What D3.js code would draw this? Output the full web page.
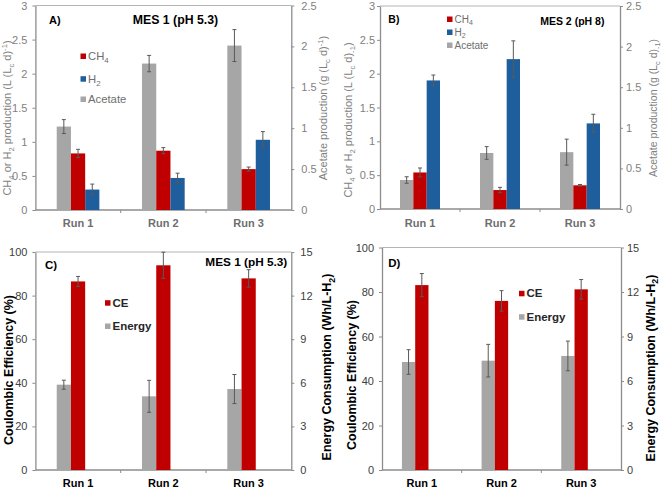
<!DOCTYPE html>
<html><head><meta charset="utf-8">
<script src="https://cdn.jsdelivr.net/npm/d3@7"></script>
<style>body{margin:0;background:#fff}svg{display:block;font-family:"Liberation Sans",Arial,sans-serif}</style>
</head><body><svg id="c" width="661" height="488"></svg>
<script>
const runs = ["Run 1", "Run 2", "Run 3"];
// Panel A – MES 1 (pH 5.3)
const ch4A = [0.83, 0.87, 0.60],   ch4AErr = [0.06, 0.045, 0.03];
const h2A = [0.30, 0.47, 1.03],    h2AErr = [0.08, 0.07, 0.12];
const acetateA = [1.02, 1.79, 2.01], acetateAErr = [0.085, 0.10, 0.195];
// Panel B – MES 2 (pH 8)
const ch4B = [0.54, 0.28, 0.35],   ch4BErr = [0.066, 0.04, 0.012];
const h2B = [1.90, 2.215, 1.265],  h2BErr = [0.08, 0.27, 0.135];
const acetateB = [0.357, 0.69, 0.70], acetateBErr = [0.04, 0.078, 0.16];
// Panel C – MES 1 (pH 5.3)
const ceC = [86.5, 93.9, 87.9],    ceCErr = [2.3, 6.0, 4.0];
const energyC = [5.87, 5.07, 5.57], energyCErr = [0.31, 1.1, 1.0];
// Panel D – MES 2
const ceD = [83.1, 76.0, 81.2],    ceDErr = [5.2, 4.6, 4.4];
const energyD = [7.28, 7.37, 7.69], energyDErr = [0.83, 1.1, 1.0];
// Tick labels
const prodTicks = [0, 0.5, 1, 1.5, 2, 2.5, 3];
const acetateTicks = [0, 0.5, 1, 1.5, 2, 2.5];
const ceTicks = [0, 20, 40, 60, 80, 100];
const energyTicks = [0, 3, 6, 9, 12, 15];

const svg = d3.select("#c");
const RED = "#C00000", BLUE = "#1F5E9C", GRAY = "#A6A6A6", ERR = "#595959", AX = "#8c8c8c";

function rich(sel, parts, size, subK) {
  const k = subK == null ? 0.3 : subK;
  let shift = 0;
  parts.forEach(([t, m]) => {
    const target = m === "sub" ? size * k : m === "sup" ? -size * 0.38 : 0;
    const ts = sel.append("tspan").attr("dy", target - shift).text(t);
    if (m !== "n") ts.attr("font-size", size * 0.7);
    shift = target;
  });
}

function drawPanel(p) {
  const g = svg.append("g");
  const x = d3.scaleBand().domain(runs).range([p.x0, p.x1]);
  const bw = x.bandwidth();
  const slot = d3.scaleBand().domain([0, 1, 2]).range([0, bw * 0.5]);
  const off = bw * 0.25;
  const yL = d3.scaleLinear().domain([0, p.lMax]).range([p.y1, p.y0]);
  const yR = d3.scaleLinear().domain([0, p.rMax]).range([p.y1, p.y0]);

  g.append("line").attr("x1", p.x0).attr("x2", p.x1).attr("y1", p.y0).attr("y2", p.y0)
    .attr("stroke", "#b4b4b4").attr("stroke-width", 1);

  const la = g.append("g").attr("transform", `translate(${p.x0},0)`)
    .call(d3.axisLeft(yL).tickValues(p.lTicks).tickSize(3).tickSizeOuter(0).tickPadding(p.lPad).tickFormat(d3.format("")));
  const ra = g.append("g").attr("transform", `translate(${p.x1},0)`)
    .call(d3.axisRight(yR).tickValues(p.rTicks).tickSize(3).tickSizeOuter(0).tickPadding(p.rPad).tickFormat(d3.format("")));
  [la, ra].forEach(a => {
    a.select(".domain").attr("stroke", AX).attr("stroke-width", 1.3);
    a.selectAll(".tick line").attr("stroke", AX);
    a.selectAll(".tick text").attr("fill", p.tickColor).attr("font-size", p.tickFont)
      .attr("font-family", "Liberation Sans, Arial, sans-serif");
  });

  // bottom axis
  g.append("line").attr("x1", p.x0).attr("x2", p.x1).attr("y1", p.y1).attr("y2", p.y1)
    .attr("stroke", AX).attr("stroke-width", 1.3);
  g.selectAll(".ctick").data(runs.slice(1)).join("line")
    .attr("x1", d => x(d)).attr("x2", d => x(d)).attr("y1", p.y1).attr("y2", p.y1 + 3)
    .attr("stroke", AX);
  g.selectAll(".clab").data(runs).join("text")
    .attr("x", d => x(d) + bw / 2).attr("y", p.runY).attr("text-anchor", "middle")
    .attr("font-size", p.runFont).attr("font-weight", "bold").attr("fill", p.runColor).text(d => d);

  p.series.forEach(s => {
    const y = s.axis === "L" ? yL : yR;
    const data = runs.map((r, i) => ({ r, v: s.vals[i], e: s.errs[i] }));
    const sg = g.append("g");
    sg.selectAll("rect").data(data).join("rect")
      .attr("x", d => x(d.r) + off + slot(s.slot)).attr("width", slot.bandwidth())
      .attr("y", d => y(d.v)).attr("height", d => p.y1 - y(d.v)).attr("fill", s.color);
    const cx = d => x(d.r) + off + slot(s.slot) + slot.bandwidth() / 2;
    sg.selectAll(".ev").data(data).join("line").attr("class", "ev")
      .attr("x1", cx).attr("x2", cx).attr("y1", d => y(d.v + d.e)).attr("y2", d => y(d.v - d.e))
      .attr("stroke", ERR).attr("stroke-width", 1);
    ["+", "-"].forEach(sg2 => {
      sg.selectAll(".cap" + (sg2 === "+" ? "t" : "b")).data(data).join("line")
        .attr("class", "cap" + (sg2 === "+" ? "t" : "b"))
        .attr("x1", d => cx(d) - 2).attr("x2", d => cx(d) + 2)
        .attr("y1", d => y(sg2 === "+" ? d.v + d.e : d.v - d.e))
        .attr("y2", d => y(sg2 === "+" ? d.v + d.e : d.v - d.e))
        .attr("stroke", ERR).attr("stroke-width", 1);
    });
  });

  // legend
  const L = p.legend;
  L.items.forEach((it, i) => {
    g.append("rect").attr("x", L.x).attr("y", L.ys[i] - 2.5).attr("width", 5.5).attr("height", 5.5).attr("fill", it.color);
    const t = g.append("text").attr("x", L.x + 7.5).attr("y", L.ys[i] + 4)
      .attr("font-size", L.font).attr("font-weight", L.bold ? "bold" : "normal").attr("fill", L.color);
    rich(t, it.parts, L.font, L.subK);
  });

  // titles
  p.texts.forEach(tx => {
    g.append("text").attr("x", tx.x).attr("y", tx.y).attr("text-anchor", tx.anchor || "start")
      .attr("font-size", tx.font).attr("font-weight", "bold").attr("fill", "#000").text(tx.text);
  });
  p.axisTitles.forEach(at => {
    const t = g.append("text").attr("transform", `translate(${at.x},${at.y}) rotate(-90)`)
      .attr("text-anchor", "middle").attr("font-size", at.font)
      .attr("font-weight", at.bold ? "bold" : "normal").attr("fill", at.color);
    rich(t, at.parts, at.font, at.subK);
  });
}

const prodTitleA = [["CH", "n"], ["4", "sub"], [" or H", "n"], ["2", "sub"], [" production (L (L", "n"], ["c", "sub"], [" d)", "n"], ["-1", "sup"], [")", "n"]];
const acetTitleA = [["Acetate production (g (L", "n"], ["c", "sub"], [" d)", "n"], ["-1", "sup"], [")", "n"]];
const prodTitleB = [["CH", "n"], ["4", "sub"], [" or H", "n"], ["2", "sub"], [" production (L (L", "n"], ["c", "sub"], [" d)", "n"], ["-1", "sub"], [")", "n"]];
const acetTitleB = [["Acetate production (g (L", "n"], ["c", "sub"], [" d)", "n"], ["-1", "sub"], [")", "n"]];
const ceTitle = [["Coulombic Efficiency (%)", "n"]];
const enTitle = [["Energy Consumption (Wh/L-H", "n"], ["2", "sub"], [")", "n"]];
const gasLegend = [
  { color: RED, parts: [["CH", "n"], ["4", "sub"]] },
  { color: BLUE, parts: [["H", "n"], ["2", "sub"]] },
  { color: GRAY, parts: [["Acetate", "n"]] }];
const ceLegend = [
  { color: RED, parts: [["CE", "n"]] },
  { color: GRAY, parts: [["Energy", "n"]] }];

drawPanel({
  x0: 35.4, x1: 291.3, y0: 5.5, y1: 210, lMax: 3, rMax: 2.5, lTicks: prodTicks, rTicks: acetateTicks,
  lPad: 5, rPad: 7, tickColor: "#7f7f7f", tickFont: 11, runY: 226.5, runFont: 11, runColor: "#6e6e6e",
  series: [
    { vals: acetateA, errs: acetateAErr, axis: "R", color: GRAY, slot: 0 },
    { vals: ch4A, errs: ch4AErr, axis: "L", color: RED, slot: 1 },
    { vals: h2A, errs: h2AErr, axis: "L", color: BLUE, slot: 2 }],
  legend: { x: 80.5, ys: [56, 78.7, 99], font: 11.3, bold: false, color: "#6e6e6e", items: gasLegend },
  texts: [{ text: "A)", x: 49, y: 23.5, font: 11 }, { text: "MES 1 (pH 5.3)", x: 175.5, y: 24, font: 12.3, anchor: "middle" }],
  axisTitles: [
    { x: 11, y: 118, font: 11, color: "#7f7f7f", parts: prodTitleA },
    { x: 327, y: 108, font: 11, color: "#7f7f7f", parts: acetTitleA }]
});

drawPanel({
  x0: 380, x1: 620, y0: 6, y1: 209, lMax: 3, rMax: 2.5, lTicks: prodTicks, rTicks: acetateTicks,
  lPad: 2, rPad: 3, tickColor: "#7f7f7f", tickFont: 11, runY: 226.5, runFont: 11, runColor: "#6e6e6e",
  series: [
    { vals: acetateB, errs: acetateBErr, axis: "R", color: GRAY, slot: 0 },
    { vals: ch4B, errs: ch4BErr, axis: "L", color: RED, slot: 1 },
    { vals: h2B, errs: h2BErr, axis: "L", color: BLUE, slot: 2 }],
  legend: { x: 447, ys: [19, 32, 45], font: 10, subK: 0.2, bold: false, color: "#6e6e6e", items: gasLegend },
  texts: [{ text: "B)", x: 388.3, y: 22.5, font: 10.5 }, { text: "MES 2 (pH 8)", x: 572.3, y: 24.5, font: 10.5, anchor: "middle" }],
  axisTitles: [
    { x: 352, y: 120, font: 11, color: "#7f7f7f", parts: prodTitleB },
    { x: 657, y: 108, font: 10.5, color: "#7f7f7f", parts: acetTitleB }]
});

drawPanel({
  x0: 35.4, x1: 291.3, y0: 252, y1: 470, lMax: 100, rMax: 15, lTicks: ceTicks, rTicks: energyTicks,
  lPad: 5, rPad: 6, tickColor: "#404040", tickFont: 11, runY: 486.5, runFont: 11, runColor: "#000",
  series: [
    { vals: energyC, errs: energyCErr, axis: "R", color: GRAY, slot: 0 },
    { vals: ceC, errs: ceCErr, axis: "L", color: RED, slot: 1 }],
  legend: { x: 105, ys: [302.7, 326], font: 11.5, bold: true, color: "#262626", items: ceLegend },
  texts: [{ text: "C)", x: 45, y: 269, font: 11.5 }, { text: "MES 1 (pH 5.3)", x: 287.3, y: 266, font: 11.8, anchor: "end" }],
  axisTitles: [
    { x: 13, y: 370, font: 12.5, bold: true, color: "#000", parts: ceTitle },
    { x: 331, y: 367, font: 12.5, bold: true, color: "#000", parts: enTitle }]
});

drawPanel({
  x0: 382, x1: 621, y0: 247.5, y1: 470, lMax: 100, rMax: 15, lTicks: ceTicks, rTicks: energyTicks,
  lPad: 5, rPad: 3, tickColor: "#404040", tickFont: 11, runY: 486.5, runFont: 11, runColor: "#000",
  series: [
    { vals: energyD, errs: energyDErr, axis: "R", color: GRAY, slot: 0 },
    { vals: ceD, errs: ceDErr, axis: "L", color: RED, slot: 1 }],
  legend: { x: 519, ys: [293.3, 316.7], font: 11.5, bold: true, color: "#262626", items: ceLegend },
  texts: [{ text: "D)", x: 388.3, y: 267, font: 11.5 }],
  axisTitles: [
    { x: 356, y: 375, font: 12.5, bold: true, color: "#000", parts: ceTitle },
    { x: 655, y: 368, font: 12.5, subK: 0.22, bold: true, color: "#000", parts: enTitle }]
});
</script></body></html>
